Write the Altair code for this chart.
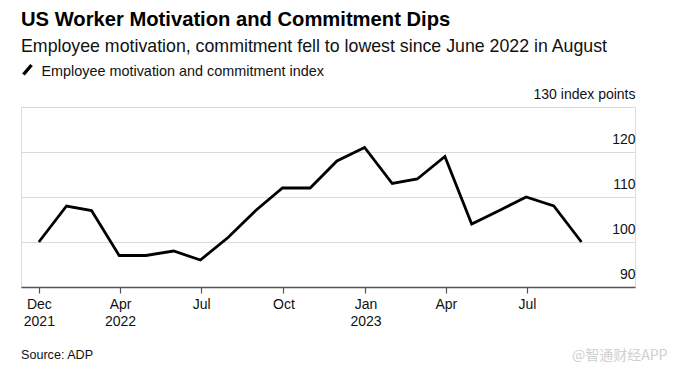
import altair as alt
import pandas as pd

# ---- data ----
dates = [
    "2021-12-31", "2022-01-31", "2022-02-28", "2022-03-31", "2022-04-30",
    "2022-05-31", "2022-06-30", "2022-07-31", "2022-08-31", "2022-09-30",
    "2022-10-31", "2022-11-30", "2022-12-31", "2023-01-31", "2023-02-28",
    "2023-03-31", "2023-04-30", "2023-05-31", "2023-06-30", "2023-07-31",
    "2023-08-31",
]
index_values = [100, 108, 107, 97, 97, 98, 96, 101, 107, 112, 112, 118, 121,
                113, 114, 119, 104, 107, 110, 108, 100]
y_ticks = [90, 100, 110, 120, 130]
title_text = "US Worker Motivation and Commitment Dips"
subtitle_text = "Employee motivation, commitment fell to lowest since June 2022 in August"
legend_text = "Employee motivation and commitment index"
source_text = "Source: ADP"
watermark_text = "@智通财经APP"

FONT = "Liberation Sans"

df = pd.DataFrame({"date": dates, "value": index_values})

x_tick_dates = [
    alt.DateTime(year=2021, month=12, date=31, utc=True),
    alt.DateTime(year=2022, month=4, date=1, utc=True),
    alt.DateTime(year=2022, month=7, date=1, utc=True),
    alt.DateTime(year=2022, month=10, date=1, utc=True),
    alt.DateTime(year=2023, month=1, date=1, utc=True),
    alt.DateTime(year=2023, month=4, date=1, utc=True),
    alt.DateTime(year=2023, month=7, date=1, utc=True),
]

label_expr = (
    "indexof(['2021-12','2022-04','2023-01'], utcFormat(datum.value,'%Y-%m')) >= 0"
    " ? [utcFormat(datum.value,'%b'), utcFormat(datum.value,'%Y')]"
    " : utcFormat(datum.value,'%b')"
)

line = alt.Chart(df).mark_line(color="#000000", strokeWidth=2.8).encode(
    x=alt.X(
        "date:T",
        scale=alt.Scale(
            type="utc",
            domain=[
                alt.DateTime(year=2021, month=12, date=11, utc=True),
                alt.DateTime(year=2023, month=10, date=30, utc=True),
            ],
        ),
        axis=alt.Axis(
            values=x_tick_dates,
            labelExpr=label_expr,
            title=None,
            grid=False,
            domainColor="#555555",
            domainWidth=1.4,
            tickColor="#555555",
            tickWidth=1.2,
            tickSize=6,
            labelFont=FONT,
            labelFontSize=14,
            labelColor="#111111",
            labelPadding=4,
            labelLineHeight=17.5,
            labelBaseline="top",
            labelAlign="center",
            labelFlush=False,
            zindex=1,
        ),
    ),
    y=alt.Y(
        "value:Q",
        scale=alt.Scale(domain=[90, 130], nice=False, zero=False),
        axis=alt.Axis(
            orient="right",
            values=y_ticks,
            labelExpr="datum.value == 130 ? '130 index points' : datum.label",
            title=None,
            grid=True,
            gridColor="#d9d9d9",
            gridWidth=1,
            domain=False,
            ticks=False,
            labelAlign="right",
            labelBaseline="alphabetic",
            labelPadding=0,
            labelOffset=-9,
            labelFont=FONT,
            labelFontSize=14,
            labelColor="#111111",
            labelFlush=False,
        ),
    ),
)

def text_layer(txt, x, y, size, weight="normal", color="#111111", font=FONT):
    return alt.Chart(pd.DataFrame({"t": [txt]})).mark_text(
        x=x, y=y, align="left", baseline="alphabetic", fontSize=size,
        fontWeight=weight, color=color, font=font,
    ).encode(text="t:N")

title = text_layer(title_text, 0, -81, 20.2, weight="bold", color="#000000")
subtitle = text_layer(subtitle_text, 0, -55.5, 17.75)
legend_lbl = text_layer(legend_text, 20.5, -31, 14.4)
source = text_layer(source_text, 0, 252, 12.6)
watermark = text_layer(watermark_text, 551, 253, 14, color="#cfcfcf",
                       font="Noto Sans CJK SC")

icon = alt.Chart(pd.DataFrame({"k": [legend_text]})).mark_rule(
    color="#000000", strokeWidth=3.4
).encode(
    x=alt.value(2.5), x2=alt.value(10.5), y=alt.value(-32.5), y2=alt.value(-42)
)

chart = alt.layer(line, title, subtitle, icon, legend_lbl, source, watermark).properties(
    width=614,
    height=180,
    autosize=alt.AutoSizeParams(type="none"),
    padding={"left": 13, "top": 99, "right": 47, "bottom": 79},
).configure_view(stroke=None).configure(background="#ffffff")

chart.save("out.html", embed_options={"renderer": "svg", "actions": False})
